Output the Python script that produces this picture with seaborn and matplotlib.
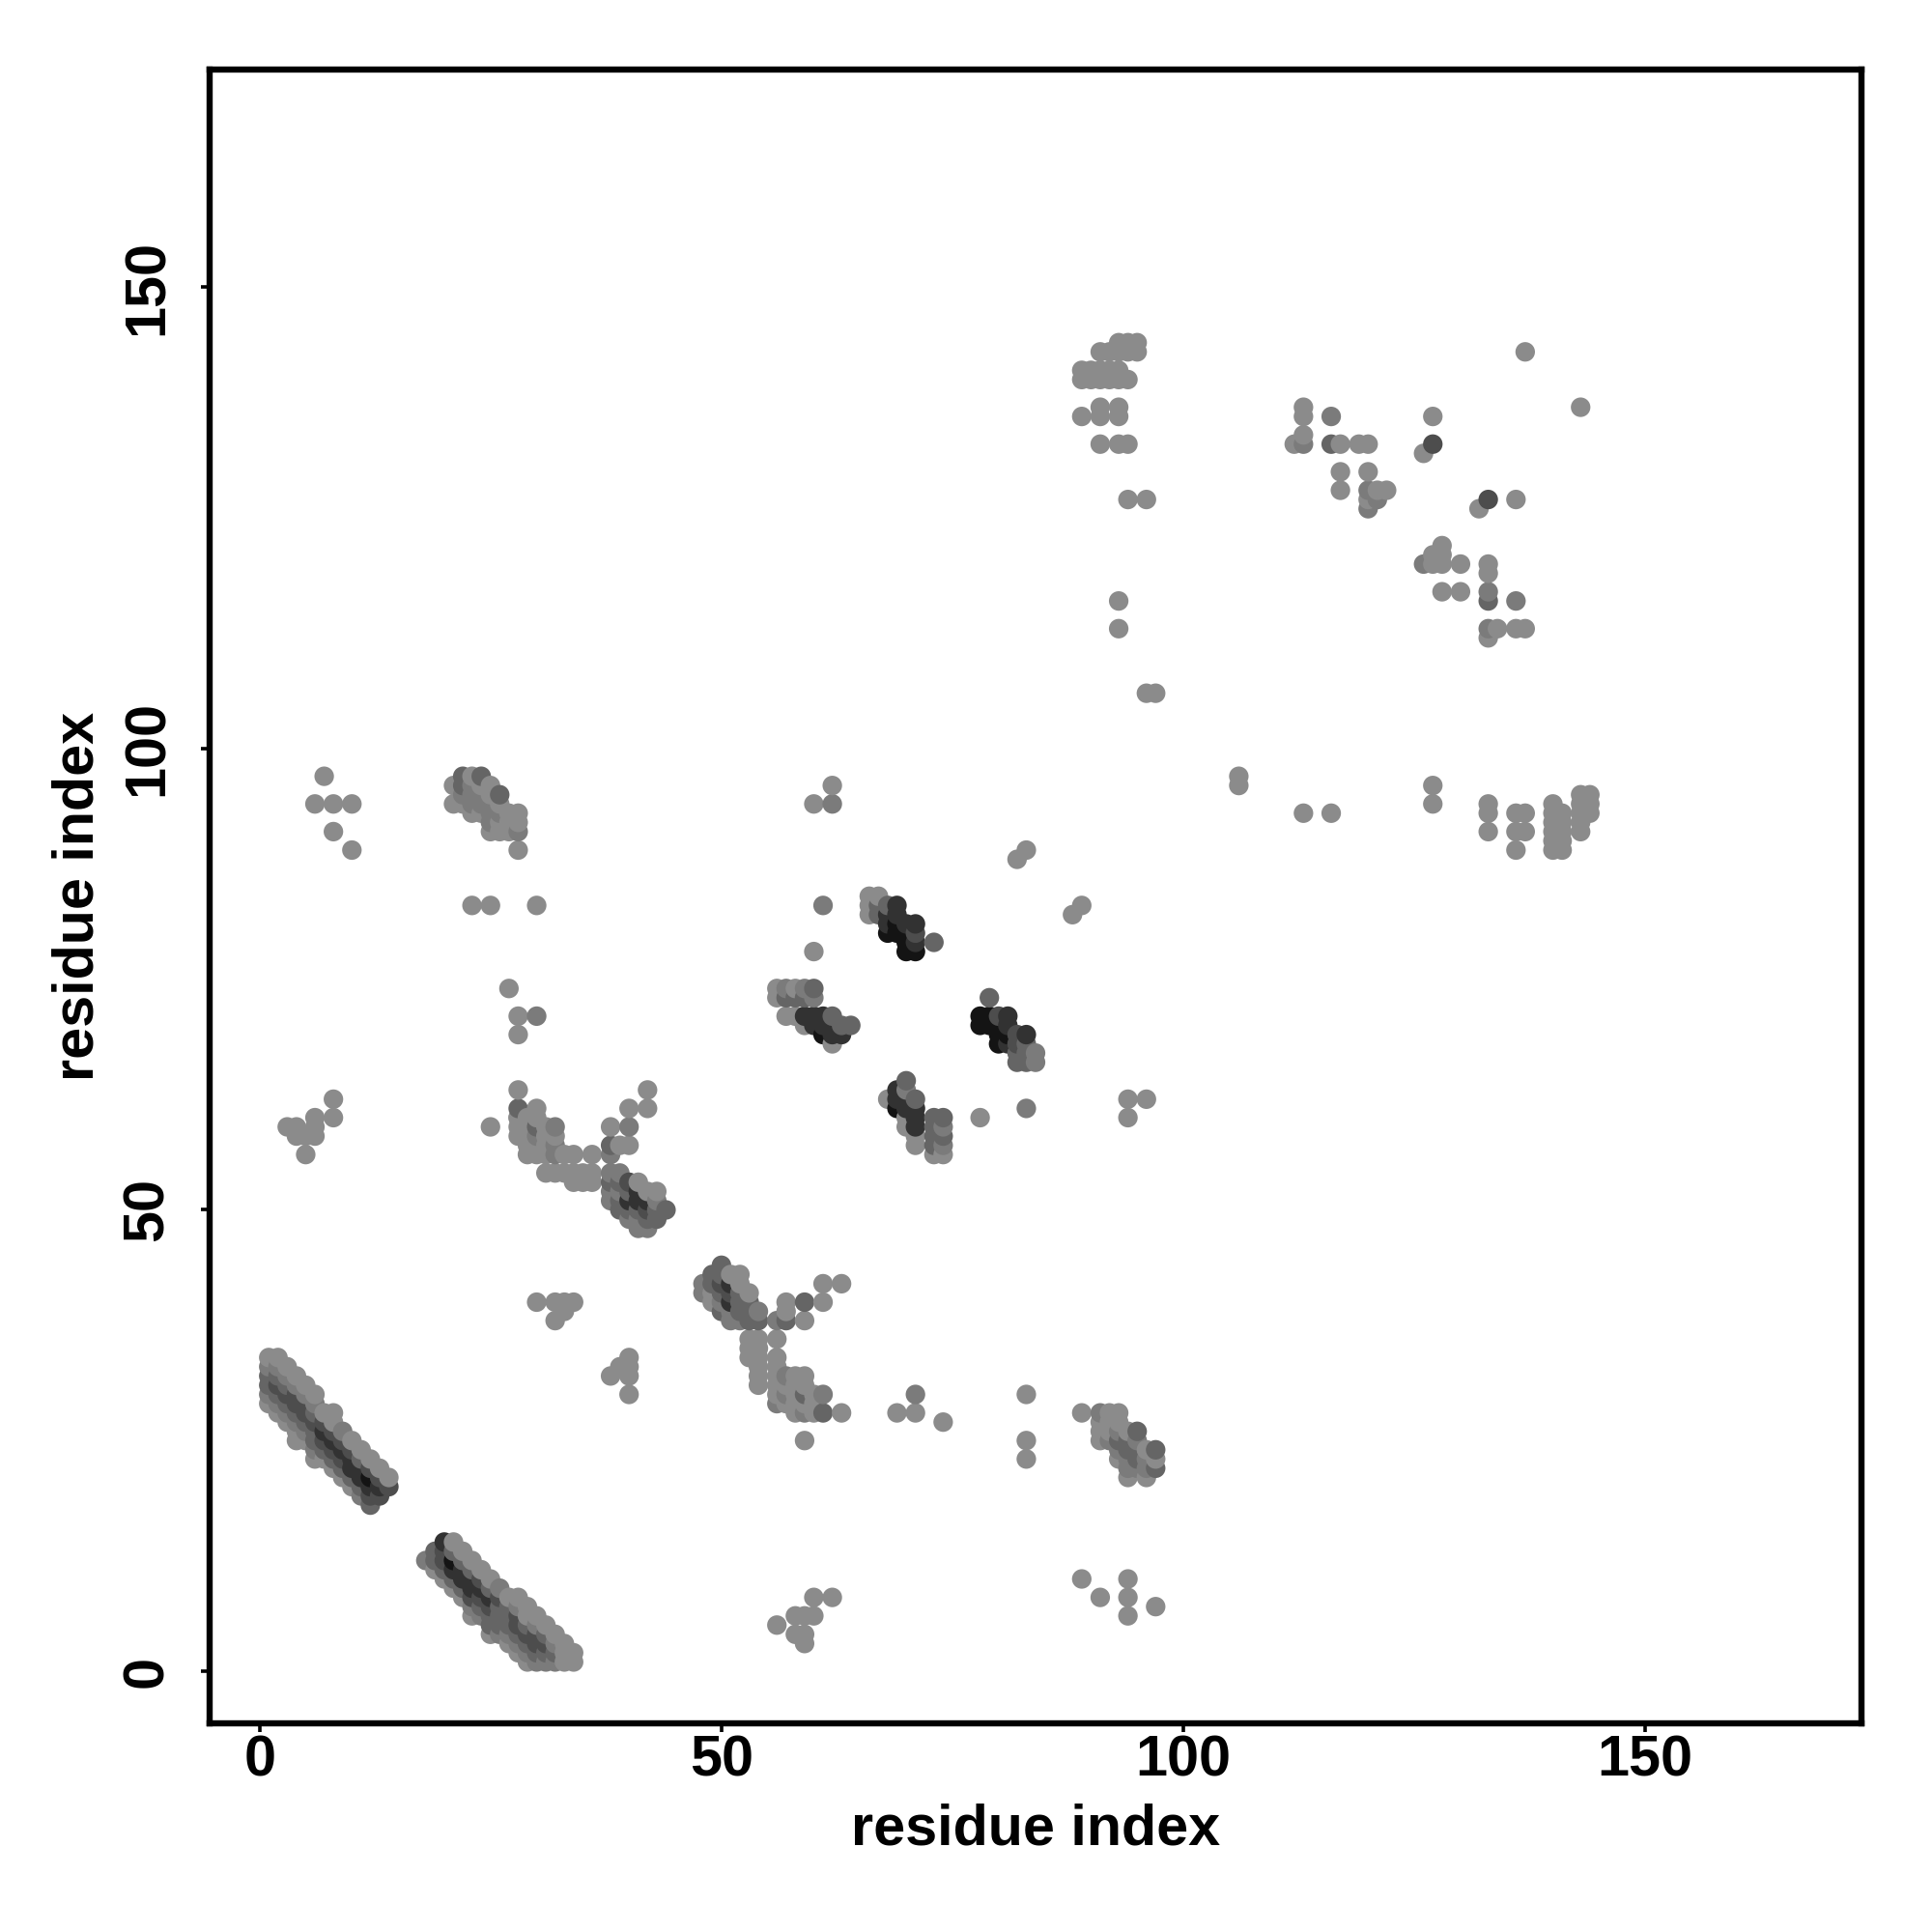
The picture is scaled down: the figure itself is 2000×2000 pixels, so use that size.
#! /usr/bin/env python
# residue contact map, grey = contact strength (1 light .. 6 near black)
import pandas as pd
import seaborn as sns
import matplotlib.pyplot as plt

## Data: each block is (residue x, residues y, strength levels)
band_a = [
    (1, [29, 30, 31, 32, 33, 34], [1, 2, 3, 3, 2, 1]),
    (2, [28, 29, 30, 31, 32, 33, 34], [1, 2, 3, 4, 3, 2, 1]),
    (3, [27, 28, 29, 30, 31, 32, 33], [1, 2, 3, 4, 3, 2, 1]),
    (4, [25, 26, 27, 28, 29, 30, 31, 32], [1, 1, 2, 3, 4, 4, 2, 1]),
    (5, [25, 26, 27, 28, 29, 30, 31], [1, 2, 3, 4, 4, 2, 1]),
    (6, [23, 24, 25, 26, 27, 28, 29, 30], [1, 2, 3, 3, 4, 3, 2, 1]),
    (7, [23, 24, 25, 26, 27, 28], [1, 3, 4, 5, 4, 1]),
    (8, [22, 23, 24, 25, 26, 27, 28], [1, 3, 4, 5, 4, 1, 1]),
    (9, [21, 22, 23, 24, 25, 26], [1, 3, 4, 5, 4, 2]),
    (10, [20, 21, 22, 23, 24, 25], [1, 3, 5, 5, 4, 1]),
    (11, [19, 20, 21, 22, 23, 24], [2, 3, 5, 5, 3, 1]),
    (12, [18, 19, 20, 21, 22, 23], [3, 4, 5, 6, 4, 1]),
    (13, [19, 20, 21, 22], [4, 5, 4, 1]),
    (14, [20, 21], [4, 1]),
]
band_b = [
    (18, [12], [2]),
    (19, [11, 12, 13], [1, 3, 3]),
    (20, [10, 11, 12, 13, 14], [1, 3, 4, 4, 5]),
    (21, [9, 10, 11, 12, 13, 14], [1, 3, 5, 6, 3, 1]),
    (22, [8, 9, 10, 11, 12, 13], [1, 3, 5, 5, 3, 1]),
    (23, [6, 7, 8, 9, 10, 11, 12], [1, 2, 4, 5, 5, 3, 1]),
    (24, [6, 7, 8, 9, 10, 11], [2, 3, 4, 5, 4, 1]),
    (25, [4, 5, 6, 7, 8, 9, 10], [1, 3, 3, 4, 5, 3, 1]),
    (26, [4, 5, 6, 7, 8, 9], [2, 3, 3, 3, 4, 2]),
    (27, [3, 4, 5, 6, 7, 8], [1, 2, 3, 3, 3, 1]),
    (28, [2, 3, 4, 5, 6, 7, 8], [1, 2, 3, 4, 4, 2, 1]),
    (29, [1, 2, 3, 4, 5, 6, 7], [1, 2, 3, 4, 3, 1, 1]),
    (30, [1, 2, 3, 4, 5, 6], [2, 3, 4, 4, 2, 1]),
    (31, [1, 2, 3, 4, 5], [2, 3, 4, 3, 1]),
    (32, [1, 2, 3, 4], [2, 3, 2, 1]),
    (33, [1, 2, 3], [1, 1, 1]),
    (34, [1, 2], [1, 1]),
]
band_c = [
    (48, [41, 42], [2, 2]),
    (49, [40, 41, 42, 43], [1, 1, 3, 3]),
    (50, [39, 40, 41, 42, 43, 44], [3, 2, 3, 4, 3, 3]),
    (51, [38, 39, 40, 41, 42, 43], [2, 2, 5, 4, 5, 1]),
    (52, [38, 39, 40, 41, 42, 43], [2, 3, 3, 3, 1, 1]),
    (53, [34, 35, 36, 38, 39, 40, 41], [1, 1, 1, 3, 3, 3, 1]),
    (54, [31, 32, 33, 34, 35, 36, 38, 39], [1, 1, 1, 1, 1, 1, 3, 2]),
    (56, [29, 30, 31, 32, 33, 34, 36, 38], [2, 1, 1, 1, 1, 1, 1, 2]),
    (57, [29, 30, 31, 32, 38, 39, 40], [1, 2, 1, 2, 3, 1, 1]),
    (58, [28, 29, 30, 31, 32], [1, 1, 1, 1, 1]),
    (59, [25, 28, 29, 30, 31, 32, 38, 40], [1, 2, 1, 3, 1, 1, 1, 3]),
    (60, [28, 29, 30], [1, 1, 1]),
    (61, [28, 30, 40, 42], [3, 2, 1, 1]),
    (63, [28, 42], [1, 1]),
]
band_d = [
    (28, [58, 59, 60, 61, 63], [1, 1, 1, 3, 1]),
    (29, [56, 57, 58, 59, 60], [1, 1, 1, 1, 1]),
    (30, [56, 57, 58, 59, 60, 61], [1, 1, 2, 3, 1, 1]),
    (31, [54, 56, 57, 58, 59], [1, 1, 1, 1, 1]),
    (32, [54, 56, 57, 58, 59], [1, 2, 2, 1, 2]),
    (33, [54, 56], [1, 1]),
    (34, [53, 54, 56], [1, 1, 1]),
    (35, [53, 54], [1, 1]),
    (36, [53, 54, 56], [1, 1, 1]),
    (38, [51, 52, 53, 54, 56, 57, 59], [2, 2, 3, 2, 2, 3, 1]),
    (39, [50, 51, 52, 53, 54, 57], [3, 3, 2, 3, 2, 1]),
    (40, [49, 50, 51, 52, 53, 57, 59, 61], [2, 3, 5, 3, 4, 1, 2, 1]),
    (41, [48, 49, 50, 51, 52, 53], [2, 2, 3, 5, 5, 1]),
    (42, [48, 49, 50, 51, 52, 61, 63], [2, 3, 4, 5, 1, 1, 1]),
    (43, [49, 50, 51, 52], [3, 3, 2, 1]),
    (44, [50], [3]),
]
band_e = [
    (56, [73, 74], [1, 1]),
    (57, [71, 73, 74], [1, 3, 2]),
    (58, [71, 73, 74], [1, 3, 1]),
    (59, [70, 71, 73, 74], [1, 5, 3, 2]),
    (60, [70, 71, 73, 74, 78], [5, 5, 2, 3, 1]),
    (61, [69, 70, 71, 83], [6, 5, 5, 2]),
    (62, [68, 69, 70, 71], [1, 5, 5, 3]),
    (63, [69, 70], [5, 3]),
    (64, [70], [3]),
    (66, [82, 83, 84], [1, 1, 1]),
    (67, [82, 83, 84], [3, 3, 1]),
    (68, [62, 80, 81, 82, 83], [1, 6, 5, 5, 3]),
    (69, [61, 62, 63, 80, 81, 82, 83], [6, 5, 5, 6, 6, 5, 5]),
    (70, [59, 60, 61, 62, 63, 64, 78, 79, 80, 81], [1, 1, 5, 5, 2, 3, 6, 6, 6, 5]),
    (71, [57, 58, 59, 60, 61, 62, 78, 79, 80, 81], [1, 1, 5, 5, 5, 3, 6, 5, 4, 5]),
    (73, [56, 57, 58, 59, 60, 79], [1, 3, 3, 3, 3, 3]),
    (74, [56, 57, 58, 59, 60], [1, 2, 3, 2, 3]),
    (78, [60, 70, 71], [1, 6, 6]),
    (79, [70, 71, 73], [6, 6, 3]),
    (80, [68, 69, 70, 71], [6, 6, 6, 4]),
    (81, [68, 69, 70, 71], [5, 6, 5, 5]),
    (82, [66, 67, 68, 69, 88], [3, 3, 4, 4, 1]),
    (83, [61, 66, 67, 68, 69, 89], [2, 3, 3, 3, 5, 1]),
    (84, [66, 67], [2, 2]),
]
band_f = [
    (21, [94, 96], [1, 1]),
    (22, [94, 95, 96, 97], [1, 2, 3, 3]),
    (23, [83, 93, 94, 95, 96, 97], [1, 1, 2, 2, 2, 1]),
    (24, [93, 94, 95, 96, 97], [1, 2, 2, 1, 3]),
    (25, [83, 91, 92, 93, 94, 95, 96], [1, 1, 2, 2, 2, 1, 1]),
    (26, [91, 92, 93, 94, 95], [1, 1, 2, 1, 3]),
    (27, [91, 92, 93], [1, 1, 1]),
    (28, [89, 91, 92, 93], [1, 2, 1, 1]),
]
band_g = [
    (89, [28], [1]),
    (91, [25, 26, 27, 28], [1, 1, 1, 2]),
    (92, [25, 26, 27, 28], [2, 1, 1, 1]),
    (93, [23, 24, 25, 26, 27, 28], [1, 2, 3, 2, 1, 1]),
    (94, [21, 22, 23, 24, 25, 26], [1, 2, 2, 3, 3, 1]),
    (95, [22, 23, 24, 25, 26], [2, 3, 3, 2, 3]),
    (96, [21, 22, 23, 24], [1, 2, 2, 1]),
    (97, [22, 23, 24], [3, 1, 3]),
]
band_h = [
    (89, [136, 140, 141], [1, 1, 1]),
    (90, [140, 141], [1, 1]),
    (91, [133, 136, 137, 140, 141, 143], [1, 1, 1, 1, 1, 1]),
    (92, [140, 141, 143], [1, 1, 1]),
    (93, [113, 116, 133, 136, 137, 140, 141, 143, 144], [1, 1, 1, 1, 1, 1, 1, 1, 1]),
    (94, [127, 133, 140, 143, 144], [1, 1, 1, 1, 1]),
    (95, [143, 144], [1, 1]),
    (96, [106, 127], [1, 1]),
    (97, [106], [1]),
]
band_i = [
    (112, [133], [1]),
    (113, [93, 133, 134, 136, 137], [1, 2, 1, 1, 1]),
    (116, [93, 133, 136], [1, 3, 2]),
    (117, [128, 130, 133], [1, 1, 1]),
    (119, [133], [1]),
    (120, [126, 127, 128, 130, 133], [2, 1, 2, 1, 1]),
    (121, [127, 128], [2, 1]),
    (122, [128], [1]),
    (126, [120, 132], [2, 1]),
    (127, [94, 96, 120, 121, 133, 136], [1, 1, 1, 1, 4, 1]),
    (128, [117, 120, 121, 122], [1, 1, 1, 1]),
    (130, [117, 120], [1, 1]),
    (132, [126], [1]),
    (133, [91, 93, 94, 112, 113, 116, 117, 119, 120, 127], [1, 1, 1, 1, 2, 3, 2, 1, 1, 4]),
    (134, [113], [1]),
    (136, [89, 91, 93, 113, 116, 127], [1, 1, 1, 1, 2, 1]),
    (137, [91, 93, 113, 143], [1, 1, 1, 1]),
    (140, [89, 90, 91, 92, 93, 94], [1, 1, 1, 1, 1, 1]),
    (141, [89, 90, 91, 92, 93], [1, 1, 1, 1, 1]),
    (143, [91, 92, 93, 94, 95, 137], [1, 1, 1, 1, 1, 1]),
    (144, [93, 94, 95], [1, 1, 1]),
]
# isolated contacts
single_x = [3, 4, 4, 5, 5, 6, 6, 6, 6, 7, 8, 8, 8, 8, 10, 10, 25, 27, 28, 28, 28, 30, 30, 30,
            32, 32, 33, 33, 34, 38, 39, 40, 40, 40, 40, 56, 58, 58, 59, 59, 59, 60, 60, 60, 62, 62, 62,
            69, 71, 71, 74, 83, 83, 83, 88, 89, 89, 91, 94, 94, 94, 94, 94, 96, 97, 106, 106]
single_y = [59, 58, 59, 56, 58, 58, 59, 60, 94, 97, 60, 62, 91, 94, 89, 94, 59, 74, 69, 71, 60, 40, 71, 83,
            38, 40, 39, 40, 40, 32, 33, 30, 32, 33, 34, 5, 4, 6, 3, 4, 6, 6, 8, 94, 8, 94, 96,
            28, 28, 30, 27, 23, 25, 30, 82, 10, 83, 8, 6, 8, 10, 60, 62, 62, 7, 96, 97]
single_level = [1, 1, 1, 1, 1, 1, 1, 1, 1, 1, 1, 1, 1, 1, 1, 1, 1, 1, 1, 1, 1, 1, 2, 1,
                1, 1, 1, 1, 1, 1, 1, 1, 1, 1, 1, 1, 1, 1, 1, 1, 1, 1, 1, 1, 1, 2, 1,
                1, 1, 2, 1, 1, 1, 1, 1, 1, 1, 1, 1, 1, 1, 1, 1, 1, 1, 1, 1]

axis_ticks = [0, 50, 100, 150]
level_colors = {1: '#8b8b8b', 2: '#7b7b7b', 3: '#656565', 4: '#4d4d4d', 5: '#323232', 6: '#141414'}

## Preprocessing
rows = []
for block in [band_a, band_b, band_c, band_d, band_e, band_f, band_g, band_h, band_i]:
    for x, ys, levels in block:
        for y, level in zip(ys, levels):
            rows.append((x, y, level))
rows += list(zip(single_x, single_y, single_level))
df = pd.DataFrame(rows, columns=['x', 'y', 'level'])
# later residues paint over earlier ones, as in the double loop of the contact map
df = df.sort_values(by=['x', 'y'])

## Plot
sns.set_theme(style='white')
plt.rcParams['font.family'] = ['Liberation Sans', 'DejaVu Sans']

fig = plt.figure(figsize=(10, 10), dpi=200)
ax = fig.add_axes([0.1085, 0.108, 0.855, 0.856])

sns.scatterplot(data=df, x='x', y='y', hue='level', palette=level_colors,
                s=53, linewidth=0, legend=False, ax=ax)

ax.set_xlim(-5.4, 173.4)
ax.set_ylim(-5.65, 173.6)
ax.set_xticks(axis_ticks)
ax.set_yticks(axis_ticks)
ax.tick_params(length=3.2, width=1.3, color='black', bottom=True, left=True)
ax.tick_params(axis='x', pad=1)
ax.tick_params(axis='y', pad=10)
for label in ax.get_xticklabels():
    label.set(fontsize=21.4, fontweight='bold', color='black')
for label in ax.get_yticklabels():
    label.set(fontsize=21.4, fontweight='bold', color='black', rotation=90, va='center')
for spine in ax.spines.values():
    spine.set_linewidth(2.3)
    spine.set_color('black')

ax.set_xlabel('residue index', fontsize=21.4, fontweight='bold', color='black', labelpad=5.8)
ax.set_ylabel('residue index', fontsize=21.4, fontweight='bold', color='black', labelpad=6)

fig.savefig('out.png', dpi=200)
